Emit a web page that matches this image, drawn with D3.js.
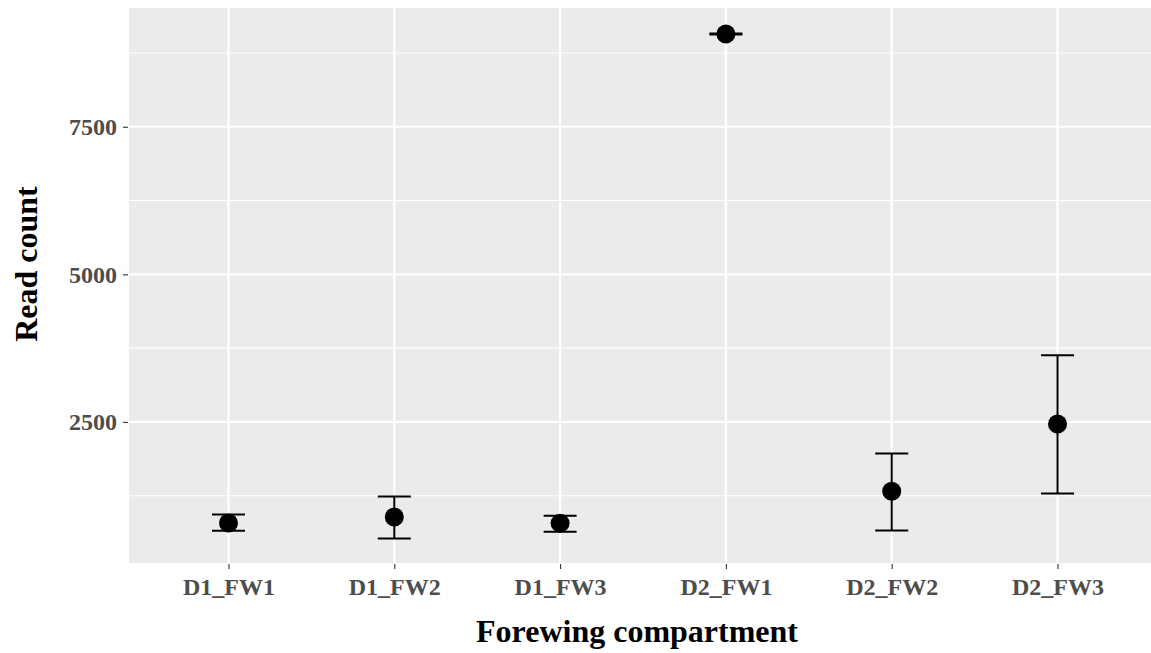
<!DOCTYPE html>
<html>
<head>
<meta charset="utf-8">
<script src="https://cdn.jsdelivr.net/npm/d3@7"></script>
<style>
  body { margin: 0; background: #fff; }
  #chart { width: 1151px; height: 653px; }
</style>
</head>
<body>
<div id="chart"></div>
<script>
const categories = ["D1_FW1", "D1_FW2", "D1_FW3", "D2_FW1", "D2_FW2", "D2_FW3"];
const means = [788, 890, 785, 9071, 1325, 2466];
const lower = [658, 524, 640, 9061, 659, 1286];
const upper = [930, 1236, 910, 9081, 1964, 3631];
const yTicks = [2500, 5000, 7500];
const yMinor = [1250, 3750, 6250, 8750];

const container = d3.select("#chart");
const w = 1151, h = 653;
const svg = container.append("svg").attr("width", w).attr("height", h);

const margin = { left: 129, right: -6, top: 8, bottom: 90 };
const font = "'Liberation Serif', 'Times New Roman', serif";

let xScale = d3.scalePoint()
  .domain(categories)
  .range([margin.left, w - margin.right])
  .padding(0.6);

let yScale = d3.scaleLinear()
  .domain([110, 9512])
  .range([h - margin.bottom, margin.top]);

// panel
svg.append("rect")
  .attr("x", margin.left).attr("y", margin.top)
  .attr("width", w - margin.right - margin.left)
  .attr("height", h - margin.bottom - margin.top)
  .attr("fill", "#ebebeb");

svg.selectAll(".minor").data(yMinor).enter().append("line")
  .attr("x1", margin.left).attr("x2", w - margin.right)
  .attr("y1", d => yScale(d)).attr("y2", d => yScale(d))
  .attr("stroke", "#fff").attr("stroke-width", 1.1);

svg.selectAll(".major").data(yTicks).enter().append("line")
  .attr("x1", margin.left).attr("x2", w - margin.right)
  .attr("y1", d => yScale(d)).attr("y2", d => yScale(d))
  .attr("stroke", "#fff").attr("stroke-width", 2.2);

svg.selectAll(".vgrid").data(categories).enter().append("line")
  .attr("x1", d => xScale(d)).attr("x2", d => xScale(d))
  .attr("y1", margin.top).attr("y2", h - margin.bottom)
  .attr("stroke", "#fff").attr("stroke-width", 2.2);

// axes
const yAxis = svg.append("g")
  .attr("transform", `translate(${margin.left - 1}, 0)`)
  .call(d3.axisLeft(yScale).tickValues(yTicks).tickFormat(d3.format("d")).tickSize(5).tickPadding(6));
const xAxis = svg.append("g")
  .attr("transform", `translate(0, ${h - margin.bottom + 1})`)
  .call(d3.axisBottom(xScale).tickSize(5).tickPadding(9));

[yAxis, xAxis].forEach(a => {
  a.select(".domain").remove();
  a.selectAll("line").attr("stroke", "#333").attr("stroke-width", 1.1);
  a.selectAll("text")
    .attr("font-family", font)
    .attr("font-weight", "bold")
    .attr("font-size", "24px")
    .attr("fill", "#4d4d4d");
});

// error bars
const data = categories.map((c, i) => ({ c, m: means[i], lo: lower[i], hi: upper[i] }));
const cap = 16.5;
const eb = svg.append("g").attr("stroke", "#000").attr("stroke-width", 2);
eb.selectAll(".v").data(data).enter().append("line")
  .attr("x1", d => xScale(d.c)).attr("x2", d => xScale(d.c))
  .attr("y1", d => yScale(d.lo)).attr("y2", d => yScale(d.hi));
eb.selectAll(".t").data(data).enter().append("line")
  .attr("x1", d => xScale(d.c) - cap).attr("x2", d => xScale(d.c) + cap)
  .attr("y1", d => yScale(d.hi)).attr("y2", d => yScale(d.hi));
eb.selectAll(".b").data(data).enter().append("line")
  .attr("x1", d => xScale(d.c) - cap).attr("x2", d => xScale(d.c) + cap)
  .attr("y1", d => yScale(d.lo)).attr("y2", d => yScale(d.lo));

svg.selectAll(".pt").data(data).enter().append("circle")
  .attr("cx", d => xScale(d.c))
  .attr("cy", d => yScale(d.m))
  .attr("r", 9.5)
  .attr("fill", "#000");

// titles
svg.append("text")
  .attr("x", 637).attr("y", 642)
  .attr("text-anchor", "middle")
  .attr("font-family", font).attr("font-weight", "bold").attr("font-size", "32px")
  .attr("fill", "#000")
  .text("Forewing compartment");

svg.append("text")
  .attr("transform", "translate(37, 264) rotate(-90)")
  .attr("text-anchor", "middle")
  .attr("font-family", font).attr("font-weight", "bold").attr("font-size", "32px")
  .attr("fill", "#000")
  .text("Read count");
</script>
</body>
</html>
